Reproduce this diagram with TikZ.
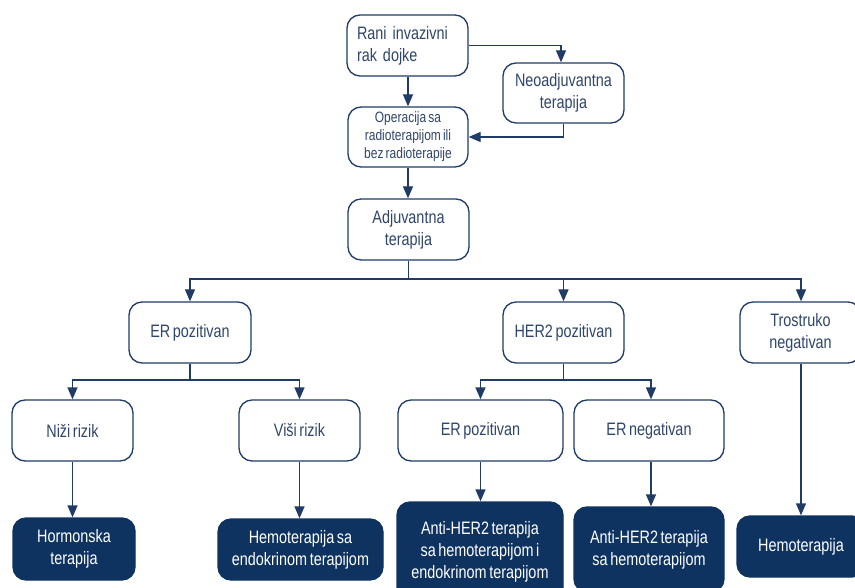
\documentclass[tikz,border=0pt]{standalone}
\usepackage{fontspec}
\setmainfont{Liberation Sans}[FakeStretch=0.8, WordSpace=0.65]
\usetikzlibrary{arrows.meta}
\definecolor{navyline}{HTML}{1F3B66}
\definecolor{navyfill}{HTML}{0E3360}
\definecolor{boxtext}{HTML}{2F466A}
\begin{document}
\begin{tikzpicture}[x=1pt,y=-1pt,
  wbox/.style={draw=navyline, line width=1.3pt, rounded corners=13pt, fill=white,
    text=boxtext, align=center, inner sep=0pt,
    font=\fontsize{18}{22}\selectfont},
  dbox/.style={draw=navyfill, line width=1.3pt, rounded corners=13pt, fill=navyfill,
    text=white, align=center, inner sep=0pt,
    font=\fontsize{18}{22}\selectfont},
  conn/.style={draw=navyline, line width=1.3pt},
  arr/.style={conn, -{Triangle[width=10pt,length=12pt]}}]
\useasboundingbox (0,0) rectangle (855,588);
\clip (0,0) rectangle (855,588);
% top part
\node[wbox, minimum width=121pt, minimum height=61pt, align=left, text width=101pt] (rani) at (407.5,45.5) {Rani invazivni\\rak dojke};
\node[wbox, minimum width=121pt, minimum height=60pt] (neo) at (563.5,93) {Neoadjuvantna\\terapija};
\node[wbox, minimum width=120pt, minimum height=60pt, font=\fontsize{15}{18}\selectfont] (oper) at (408,137) {Operacija sa\\radioterapijom ili\\bez radioterapije};
\node[wbox, minimum width=121pt, minimum height=61pt] (adj) at (408.5,229.5) {Adjuvantna\\terapija};
% second level
\node[wbox, minimum width=122pt, minimum height=61pt] (erp) at (190,332.5) {ER pozitivan};
\node[wbox, minimum width=121pt, minimum height=61pt] (her) at (563.5,332.5) {HER2 pozitivan};
\node[wbox, minimum width=121pt, minimum height=61pt] (tro) at (800.5,332.5) {Trostruko\\negativan};
% third level
\node[wbox, minimum width=121pt, minimum height=61pt] (nizi) at (72.5,430.5) {Niži rizik};
\node[wbox, minimum width=121pt, minimum height=61pt] (visi) at (299.5,430.5) {Viši rizik};
\node[wbox, minimum width=165pt, minimum height=61pt] (erp2) at (480.5,430.5) {ER pozitivan};
\node[wbox, minimum width=150pt, minimum height=61pt] (ern) at (649,430.5) {ER negativan};
% bottom level
\node[dbox, minimum width=122pt, minimum height=62pt] (horm) at (74,549) {Hormonska\\terapija};
\node[dbox, minimum width=165pt, minimum height=61pt] (hemo) at (300.5,549.5) {Hemoterapija sa\\endokrinom terapijom};
\node[dbox, minimum width=166pt, minimum height=100pt] (anti1) at (480,552) {Anti-HER2 terapija\\sa hemoterapijom i\\endokrinom terapijom};
\node[dbox, minimum width=150pt, minimum height=85pt] (anti2) at (649,549.5) {Anti-HER2 terapija\\sa hemoterapijom};
\node[dbox, minimum width=128pt, minimum height=61pt] (hemot) at (801,546.5) {Hemoterapija};
% connectors
\coordinate (neotop) at ([xshift=-2.5pt]neo.north);
\draw[arr] (rani.east) -| (neotop);
\draw[arr] (neo.south) |- (oper.east);
\draw[arr] (rani.south -| oper.north) -- (oper.north);
\draw[arr] (oper.south) -- (adj.north -| oper.south);
\coordinate (bus) at (408.5,279);
\draw[conn] (adj.south) -- (bus);
\draw[arr] (bus) -| (erp.north);
\draw[arr] (bus) -| (her.north);
\coordinate (trotop) at ([xshift=0.5pt]tro.north);
\coordinate (trobot) at ([xshift=0.5pt]tro.south);
\draw[arr] (bus) -| (trotop);
\coordinate (erbus) at (190,380);
\draw[conn] (erp.south) -- (erbus);
\draw[arr] (erbus) -| (nizi.north);
\draw[arr] (erbus) -| (visi.north);
\coordinate (herbus) at (563.5,380);
\draw[conn] (her.south) -- (herbus);
\coordinate (erntop) at ([xshift=2pt]ern.north);
\coordinate (ernbot) at ([xshift=2pt]ern.south);
\draw[arr] (herbus) -| (erp2.north);
\draw[arr] (herbus) -| (erntop);
\draw[arr] (nizi.south) -- (horm.north -| nizi.south);
\draw[arr] (visi.south) -- (hemo.north -| visi.south);
\draw[arr] (erp2.south) -- (anti1.north -| erp2.south);
\draw[arr] (ernbot) -- (anti2.north -| ernbot);
\draw[arr] (trobot) -- (hemot.north -| trobot);
\end{tikzpicture}
\end{document}
